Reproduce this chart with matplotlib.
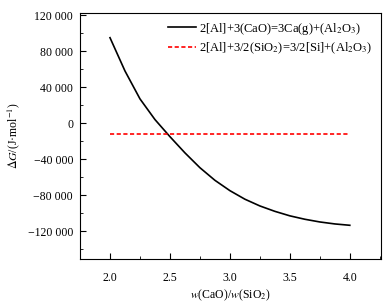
import matplotlib
matplotlib.use("Agg")
import matplotlib.pyplot as plt
from matplotlib.ticker import MultipleLocator, FuncFormatter

# Data
ratio = [2.0, 2.125, 2.25, 2.375, 2.5, 2.625, 2.75, 2.875, 3.0,
         3.125, 3.25, 3.375, 3.5, 3.625, 3.75, 3.875, 4.0]
dg_cao = [95000, 58000, 27000, 4000, -15000, -33000, -49500, -63500, -75000,
          -84500, -92000, -98000, -103000, -106800, -109800, -112000, -113500]
ratio_sio2 = [2.0, 4.0]
dg_sio2 = [-11500, -11500]

label_cao = r"2[Al]+3(CaO)=3Ca(g)+(Al$_2$O$_3$)"
label_sio2 = r"2[Al]+3/2(SiO$_2$)=3/2[Si]+(Al$_2$O$_3$)"

plt.rcParams["font.family"] = ["Liberation Serif", "DejaVu Serif"]
plt.rcParams["mathtext.fontset"] = "stix"
plt.rcParams["font.size"] = 8.5


def fmt_thousands(v, pos):
    s = f"{abs(int(round(v))):,}".replace(",", " ")
    return ("\u2212" + s) if v < 0 else s


fig = plt.figure(figsize=(3.89, 3.08), dpi=100)
ax = fig.add_axes([0.2057, 0.159, 0.7737, 0.8004])

ax.plot(ratio, dg_cao, color="black", lw=1.2, label=label_cao)
ax.plot(ratio_sio2, dg_sio2, color="red", lw=1.2, ls=(0, (2.5, 1.5)), label=label_sio2)

ax.set_xlim(1.75, 4.26)
ax.set_ylim(-151000, 123000)
ax.xaxis.set_major_locator(MultipleLocator(0.5))
ax.xaxis.set_minor_locator(MultipleLocator(0.25))
ax.yaxis.set_major_locator(MultipleLocator(40000))
ax.yaxis.set_minor_locator(MultipleLocator(20000))
ax.yaxis.set_major_formatter(FuncFormatter(fmt_thousands))
ax.tick_params(which="both", direction="in", top=False, right=False)
ax.tick_params(which="major", length=4, width=0.8)
ax.tick_params(axis="x", which="major", pad=9)
ax.tick_params(axis="y", which="major", pad=5)
ax.tick_params(which="minor", length=2.5, width=0.6)

ax.set_xlabel(r"$w$(CaO)/$w$(SiO$_2$)", labelpad=3)
ax.set_ylabel(r"$\Delta G$/(J·mol$^{-1}$)", labelpad=4)

ax.legend(loc="upper right", frameon=False, handlelength=2.2, handletextpad=0.3,
          borderaxespad=0.25, labelspacing=0.3, fontsize=9)

fig.savefig("out.png", dpi=100)
